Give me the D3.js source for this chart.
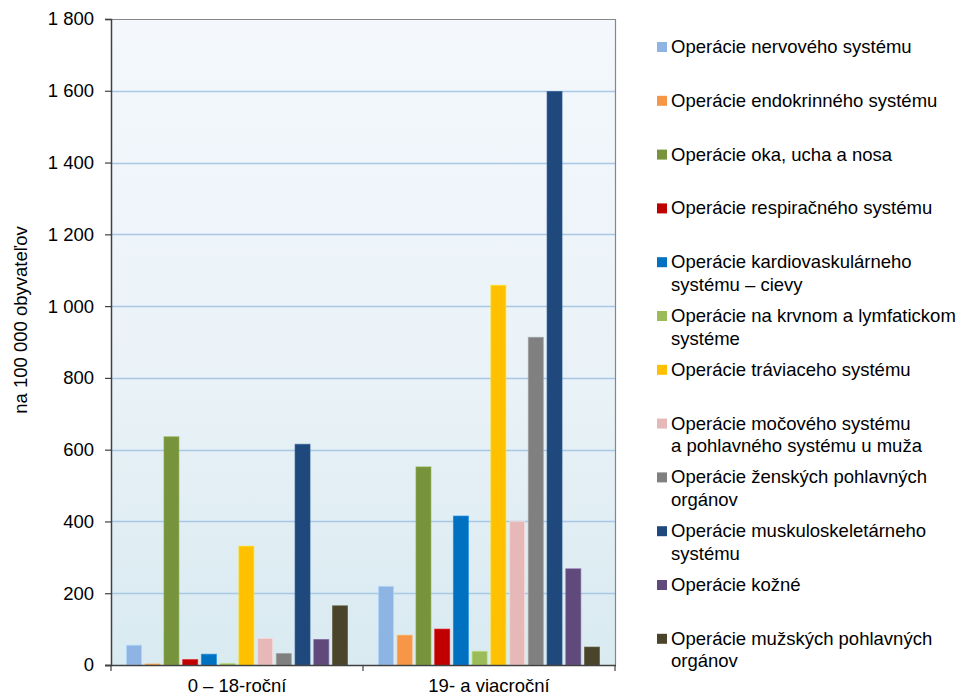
<!DOCTYPE html>
<html>
<head>
<meta charset="utf-8">
<script src="https://cdn.jsdelivr.net/npm/d3@7"></script>
<style>
  html, body { margin: 0; padding: 0; background: #ffffff; }
  svg { display: block; font-family: "Liberation Sans", Arial, sans-serif; }
</style>
</head>
<body>
<svg id="chart" width="961" height="696"></svg>
<script>
// ---- data ----
const categories = ["0 – 18-roční", "19- a viacroční"];
const seriesNames = [
  "Operácie nervového systému",
  "Operácie endokrinného systému",
  "Operácie oka, ucha a nosa",
  "Operácie respiračného systému",
  "Operácie kardiovaskulárneho systému – cievy",
  "Operácie na krvnom a lymfatickom systéme",
  "Operácie tráviaceho systému",
  "Operácie močového systému a pohlavného systému u muža",
  "Operácie ženských pohlavných orgánov",
  "Operácie muskuloskeletárneho systému",
  "Operácie kožné",
  "Operácie mužských pohlavných orgánov"
];
const legendLines = [
  ["Operácie nervového systému"],
  ["Operácie endokrinného systému"],
  ["Operácie oka, ucha a nosa"],
  ["Operácie respiračného systému"],
  ["Operácie kardiovaskulárneho", "systému – cievy"],
  ["Operácie na krvnom a lymfatickom", "systéme"],
  ["Operácie tráviaceho systému"],
  ["Operácie močového systému", "a pohlavného systému u muža"],
  ["Operácie ženských pohlavných", "orgánov"],
  ["Operácie muskuloskeletárneho", "systému"],
  ["Operácie kožné"],
  ["Operácie mužských pohlavných", "orgánov"]
];
const values0to18 = [55, 3, 636, 15, 30, 4, 331, 74, 32, 615, 71, 165];
const values19plus = [219, 83, 552, 100, 415, 38, 1058, 400, 913, 1598, 268, 50];
const seriesColors = ["#8eb4e3", "#f79646", "#77933c", "#c00000", "#0070c0", "#9bbb59",
                      "#ffc000", "#e6b9b8", "#808080", "#1f497d", "#604a7b", "#4a452a"];
const yTicks = [0, 200, 400, 600, 800, 1000, 1200, 1400, 1600, 1800];
const yLabel = "na 100 000 obyvateľov";

const valuesByCategory = [values0to18, values19plus];

// ---- layout ----
const FS = "18.5px";
const svg = d3.select("#chart");
const plot = { left: 111, right: 615, top: 19, bottom: 665 };

const x0 = d3.scaleBand().domain(categories).range([plot.left, plot.right]).padding(0);
const x1 = d3.scaleBand().domain(d3.range(seriesNames.length))
  .range([15.5, x0.bandwidth() - 15.5]).paddingInner(0.2).paddingOuter(0);
const y = d3.scaleLinear().domain([0, 1800]).range([plot.bottom, plot.top]);

// background gradient
const defs = svg.append("defs");
const grad = defs.append("linearGradient").attr("id", "bg").attr("x1", 0).attr("y1", 0).attr("x2", 0).attr("y2", 1);
grad.append("stop").attr("offset", "0%").attr("stop-color", "#f4f8fc");
grad.append("stop").attr("offset", "50%").attr("stop-color", "#ebf3f8");
grad.append("stop").attr("offset", "100%").attr("stop-color", "#d9eaf1");

svg.append("rect")
  .attr("x", plot.left).attr("y", plot.top)
  .attr("width", plot.right - plot.left).attr("height", plot.bottom - plot.top)
  .attr("fill", "url(#bg)");

// gridlines
svg.append("g").selectAll("line")
  .data(yTicks.filter(t => t > 0 && t < 1800))
  .join("line")
  .attr("x1", plot.left).attr("x2", plot.right)
  .attr("y1", d => Math.round(y(d)) + 0.5).attr("y2", d => Math.round(y(d)) + 0.5)
  .attr("stroke", "#a9c8e6").attr("stroke-width", 1.3);

// top & right border
svg.append("path")
  .attr("d", `M${plot.left},${plot.top + 0.5}H${plot.right + 0.5}V${plot.bottom}`)
  .attr("fill", "none").attr("stroke", "#868686").attr("stroke-width", 1.2);

// bars
const groups = svg.append("g").selectAll("g")
  .data(categories)
  .join("g")
  .attr("transform", d => `translate(${x0(d)},0)`);

groups.selectAll("rect")
  .data((d, i) => valuesByCategory[i].map((v, j) => ({ v, j })))
  .join("rect")
  .attr("x", d => x1(d.j))
  .attr("y", d => y(d.v))
  .attr("width", x1.bandwidth())
  .attr("height", d => y(0) - y(d.v))
  .attr("fill", d => seriesColors[d.j])
  .attr("stroke", d => d3.color(seriesColors[d.j]).brighter(0.5))
  .attr("stroke-opacity", 0.6)
  .attr("stroke-width", 1);

// y axis
const yAxis = d3.axisLeft(y).tickValues(yTicks).tickSize(6).tickPadding(11)
  .tickFormat(d => d3.format(",")(d).replace(/,/g, " "));
const yg = svg.append("g").attr("transform", `translate(${plot.left},0)`).call(yAxis);
yg.select(".domain").attr("stroke", "#404040").attr("stroke-width", 1.5);
yg.selectAll(".tick line").attr("stroke", "#404040").attr("stroke-width", 1.2);
yg.selectAll(".tick text").attr("font-size", FS).attr("fill", "#000")
  .attr("font-family", "Liberation Sans, Arial, sans-serif");

// x axis
const xAxis = d3.axisBottom(x0).tickSize(0).tickPadding(14);
const xg = svg.append("g").attr("transform", `translate(0,${plot.bottom})`).call(xAxis);
xg.select(".domain").remove();
xg.append("line").attr("x1", plot.left - 6).attr("x2", plot.right + 1)
  .attr("y1", 0.5).attr("y2", 0.5).attr("stroke", "#404040").attr("stroke-width", 1.5);
xg.selectAll(".sep").data([plot.left, x0(categories[1]), plot.right])
  .join("line").attr("class", "sep")
  .attr("x1", d => d).attr("x2", d => d).attr("y1", 0).attr("y2", 6)
  .attr("stroke", "#404040").attr("stroke-width", 1.2);
xg.selectAll(".tick text").attr("font-size", FS).attr("fill", "#000")
  .attr("font-family", "Liberation Sans, Arial, sans-serif");

// y label
svg.append("text")
  .attr("transform", `translate(27,320) rotate(-90)`)
  .attr("text-anchor", "middle")
  .attr("font-size", FS).attr("fill", "#000")
  .text(yLabel);

// legend
const legend = svg.append("g");
const legendStep = 53.8;
const legendItems = legend.selectAll("g").data(legendLines).join("g")
  .attr("transform", (d, i) => `translate(657,${53 + i * legendStep})`);
legendItems.append("rect")
  .attr("x", 0).attr("y", -11).attr("width", 10).attr("height", 10)
  .attr("fill", (d, i) => seriesColors[i]);
legendItems.append("text")
  .attr("x", 14).attr("y", 0)
  .attr("font-size", FS).attr("fill", "#000")
  .selectAll("tspan").data(d => d).join("tspan")
  .attr("x", 14).attr("dy", (d, i) => i === 0 ? 0 : 22.5)
  .text(d => d);
</script>
</body>
</html>
